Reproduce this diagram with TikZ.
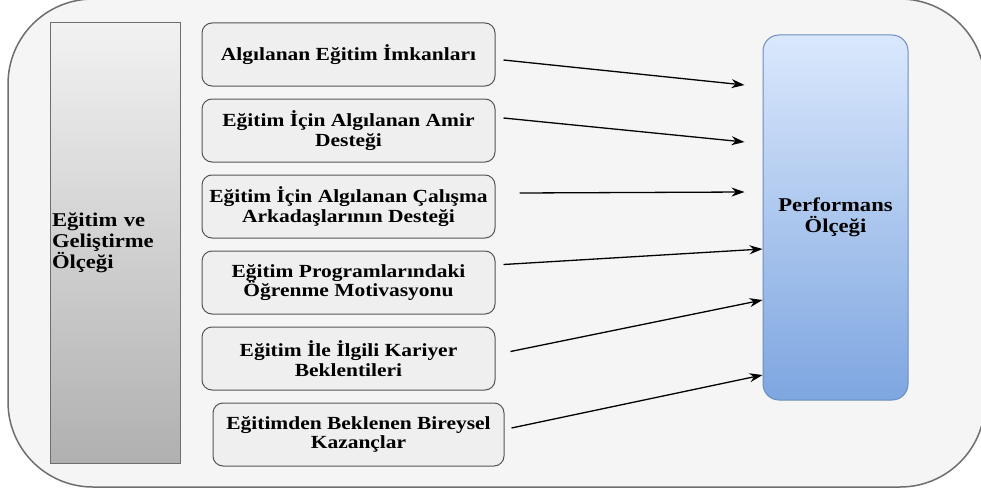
\documentclass[tikz,border=0pt]{standalone}
\usepackage{fontspec}
\setmainfont{Liberation Serif}[FakeStretch=1.16]
\usetikzlibrary{calc, positioning, arrows.meta}
\definecolor{frameFill}{HTML}{F5F5F5}
\definecolor{frameLine}{HTML}{6E6E6E}
\definecolor{boxFill}{HTML}{EFEFEF}
\definecolor{boxLine}{HTML}{555555}
\definecolor{barTop}{HTML}{F2F2F2}
\definecolor{barBot}{HTML}{B0B0B0}
\definecolor{perfTop}{HTML}{DAE8FC}
\definecolor{perfBot}{HTML}{7EA6E0}
\definecolor{perfLine}{HTML}{6C8EBF}
\tikzset{
  dim/.style={draw=boxLine, fill=boxFill, rounded corners=10pt, line width=1pt,
    minimum width=293pt, minimum height=63pt, align=center,
    font=\fontsize{18.5}{19.5}\selectfont\bfseries},
  arr/.style={-{Stealth[length=13pt, width=9pt]}, line width=1.3pt}
}
\begin{document}
\begin{tikzpicture}[x=1pt, y=-1pt]
  \useasboundingbox (0,0) rectangle (981,495);
  \clip (0,0) rectangle (981,495);
  % outer frame
  \draw[frameLine, fill=frameFill, line width=1.5pt, rounded corners=85pt] (8,-1) rectangle (985,487);
  % scale on the left
  \node[draw=frameLine, line width=1pt, top color=barTop, bottom color=barBot,
    minimum width=130pt, minimum height=440pt, inner sep=2pt, text width=126pt,
    align=left, font=\fontsize{19.5}{21}\selectfont\bfseries] (egt) at (115,243)
    {Eğitim ve\\Geliştirme\\Ölçeği};
  % dimensions
  \node[dim] (b1) at (348.5,54.5) {Algılanan Eğitim İmkanları};
  \node[dim, below=12pt of b1] (b2) {Eğitim İçin Algılanan Amir\\Desteği};
  \node[dim, below=12pt of b2] (b3) {Eğitim İçin Algılanan Çalışma\\Arkadaşlarının Desteği};
  \node[dim, below=12pt of b3] (b4) {Eğitim Programlarındaki\\Öğrenme Motivasyonu};
  \node[dim, below=12pt of b4] (b5) {Eğitim İle İlgili Kariyer\\Beklentileri};
  \node[dim, below=12pt of b5, xshift=10pt, minimum width=291pt] (b6) {Eğitimden Beklenen Bireysel\\Kazançlar};
  % performance
  \node[draw=perfLine, line width=1pt, top color=perfTop, bottom color=perfBot,
    rounded corners=16pt, minimum width=145pt, minimum height=365pt, align=center,
    font=\fontsize{19.5}{21}\selectfont\bfseries] (perf) at (835.5,217.5)
    {Performans\\Ölçeği};
  % arrow ends
  \coordinate (s1) at ($(b1.east)+(8,5.5)$);
  \coordinate (s2) at ($(b2.east)+(8,-12.5)$);
  \coordinate (s3) at ($(b3.east)+(24,-13.5)$);
  \coordinate (s4) at ($(b4.east)+(8,-18)$);
  \coordinate (s5) at ($(b5.east)+(15,-7)$);
  \coordinate (s6) at ($(b6.east)+(7,-6.5)$);
  \coordinate (t1) at ($(perf.west)+(-18,-132.5)$);
  \coordinate (t2) at ($(perf.west)+(-18,-75.5)$);
  \coordinate (t3) at ($(perf.west)+(-18,-25.5)$);
  \coordinate (t4) at ($(perf.west)+(0,31.5)$);
  \coordinate (t5) at ($(perf.west)+(0,82.5)$);
  \coordinate (t6) at ($(perf.west)+(0,157.5)$);
  \foreach \i in {1,...,6}
    \draw[arr] (s\i) -- (t\i);
\end{tikzpicture}
\end{document}
